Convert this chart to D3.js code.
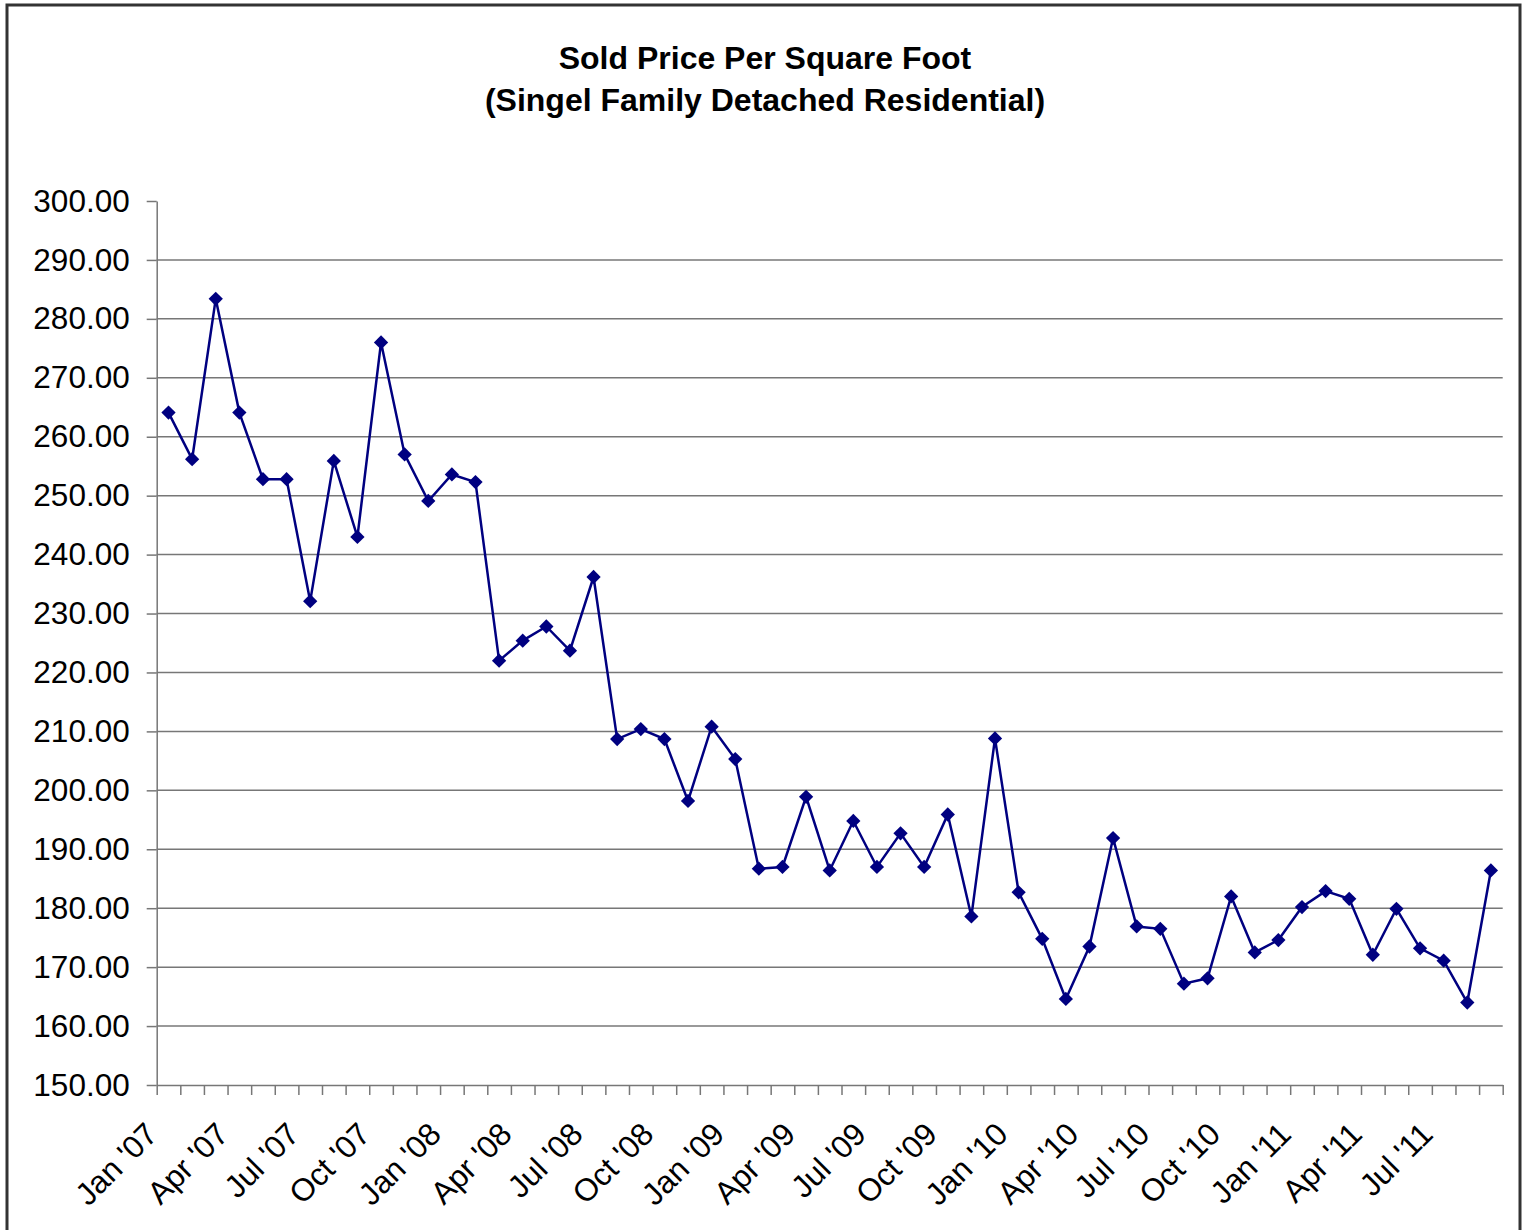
<!doctype html>
<html lang="en">
  <head>
    <meta charset="utf-8" />
    <title>Sold Price Per Square Foot</title>
    <script src="https://d3js.org/d3.v7.min.js"></script>
    <style>
      body { margin: 0; background: #fff; }
      svg { display: block; font-family: "Liberation Sans", Arial, sans-serif; }
    </style>
  </head>
  <body>
    <svg id="main" width="1527" height="1230"></svg>
    <script>
      const titleLines = ['Sold Price Per Square Foot', '(Singel Family Detached Residential)'];

      const months = [
        "Jan '07", "Feb '07", "Mar '07", "Apr '07", "May '07", "Jun '07", "Jul '07", "Aug '07", "Sep '07", "Oct '07", "Nov '07", "Dec '07",
        "Jan '08", "Feb '08", "Mar '08", "Apr '08", "May '08", "Jun '08", "Jul '08", "Aug '08", "Sep '08", "Oct '08", "Nov '08", "Dec '08",
        "Jan '09", "Feb '09", "Mar '09", "Apr '09", "May '09", "Jun '09", "Jul '09", "Aug '09", "Sep '09", "Oct '09", "Nov '09", "Dec '09",
        "Jan '10", "Feb '10", "Mar '10", "Apr '10", "May '10", "Jun '10", "Jul '10", "Aug '10", "Sep '10", "Oct '10", "Nov '10", "Dec '10",
        "Jan '11", "Feb '11", "Mar '11", "Apr '11", "May '11", "Jun '11", "Jul '11", "Aug '11", "Sep '11"
      ];

      const pricePerSqFt = [
        264.1, 256.2, 283.4, 264.1, 252.8, 252.8, 232.1, 255.9, 243.0, 276.0, 257.0, 249.1,
        253.6, 252.3, 222.0, 225.4, 227.8, 223.7, 236.2, 208.7, 210.4, 208.7, 198.2, 210.8,
        205.3, 186.7, 187.0, 198.9, 186.4, 194.8, 187.0, 192.7, 187.0, 195.9, 178.6, 208.8,
        182.7, 174.8, 164.6, 173.5, 191.9, 176.9, 176.5, 167.2, 168.1, 182.0, 172.5, 174.6,
        180.2, 182.9, 181.6, 172.1, 179.9, 173.2, 171.1, 164.0, 186.4
      ];

      const yTicks = [150, 160, 170, 180, 190, 200, 210, 220, 230, 240, 250, 260, 270, 280, 290, 300];
      const gridValues = [160, 170, 180, 190, 200, 210, 220, 230, 240, 250, 260, 270, 280, 290];

      const plotLeft = 156.7, plotRight = 1502.7, plotTop = 201, plotBottom = 1085;
      const svg = d3.select('#main');

      // outer chart border
      svg.append('rect')
        .attr('x', 7).attr('y', 5).attr('width', 1513).attr('height', 1260)
        .attr('fill', 'none').attr('stroke', '#333').attr('stroke-width', 3);

      svg.append('g').selectAll('text').data(titleLines).join('text')
        .attr('x', 765).attr('y', (d, i) => 69 + i * 42)
        .attr('text-anchor', 'middle')
        .attr('font-size', 32).attr('font-weight', 'bold')
        .text(d => d);

      const x = d3.scaleBand().domain(months).range([plotLeft, plotRight]).padding(0);
      const xEdge = d3.scaleLinear().domain([0, months.length]).range([plotLeft, plotRight]);
      const y = d3.scaleLinear().domain([150, 300]).range([plotBottom, plotTop]);

      // gridlines
      svg.append('g').selectAll('line').data(gridValues).join('line')
        .attr('x1', plotLeft).attr('x2', plotRight)
        .attr('y1', d => y(d)).attr('y2', d => y(d))
        .attr('stroke', '#777').attr('stroke-width', 1.5);

      const yAxis = svg.append('g')
        .attr('transform', `translate(${plotLeft},0)`)
        .call(d3.axisLeft(y).tickValues(yTicks).tickFormat(d3.format('.2f'))
          .tickSize(10).tickSizeOuter(0).tickPadding(17));
      yAxis.attr('font-family', null).attr('font-size', null);
      yAxis.selectAll('text').attr('font-size', 31.5).attr('fill', '#000');
      yAxis.selectAll('line, path').attr('stroke', '#777').attr('stroke-width', 1.5);

      const xAxis = svg.append('g')
        .attr('transform', `translate(0,${plotBottom})`)
        .call(d3.axisBottom(xEdge).tickValues(d3.range(months.length + 1)).tickFormat('')
          .tickSize(10).tickSizeOuter(0));
      xAxis.selectAll('line, path').attr('stroke', '#777').attr('stroke-width', 1.5);

      svg.append('g').selectAll('text')
        .data(months.filter((d, i) => i % 3 === 0)).join('text')
        .attr('transform', d => `translate(${x(d) + x.bandwidth() / 2 - 9},${plotBottom + 51}) rotate(-45)`)
        .attr('text-anchor', 'end')
        .attr('font-size', 31.5)
        .text(d => d);

      const line = d3.line()
        .x((d, i) => x(months[i]) + x.bandwidth() / 2)
        .y(d => y(d));

      svg.append('path').datum(pricePerSqFt)
        .attr('d', line)
        .attr('fill', 'none').attr('stroke', '#000080').attr('stroke-width', 2.5);

      const diamond = d3.symbol().type(d3.symbolDiamond2).size(130);
      svg.append('g').selectAll('path').data(pricePerSqFt).join('path')
        .attr('transform', (d, i) => `translate(${x(months[i]) + x.bandwidth() / 2},${y(d)})`)
        .attr('d', diamond)
        .attr('fill', '#000080');
    </script>
  </body>
</html>
